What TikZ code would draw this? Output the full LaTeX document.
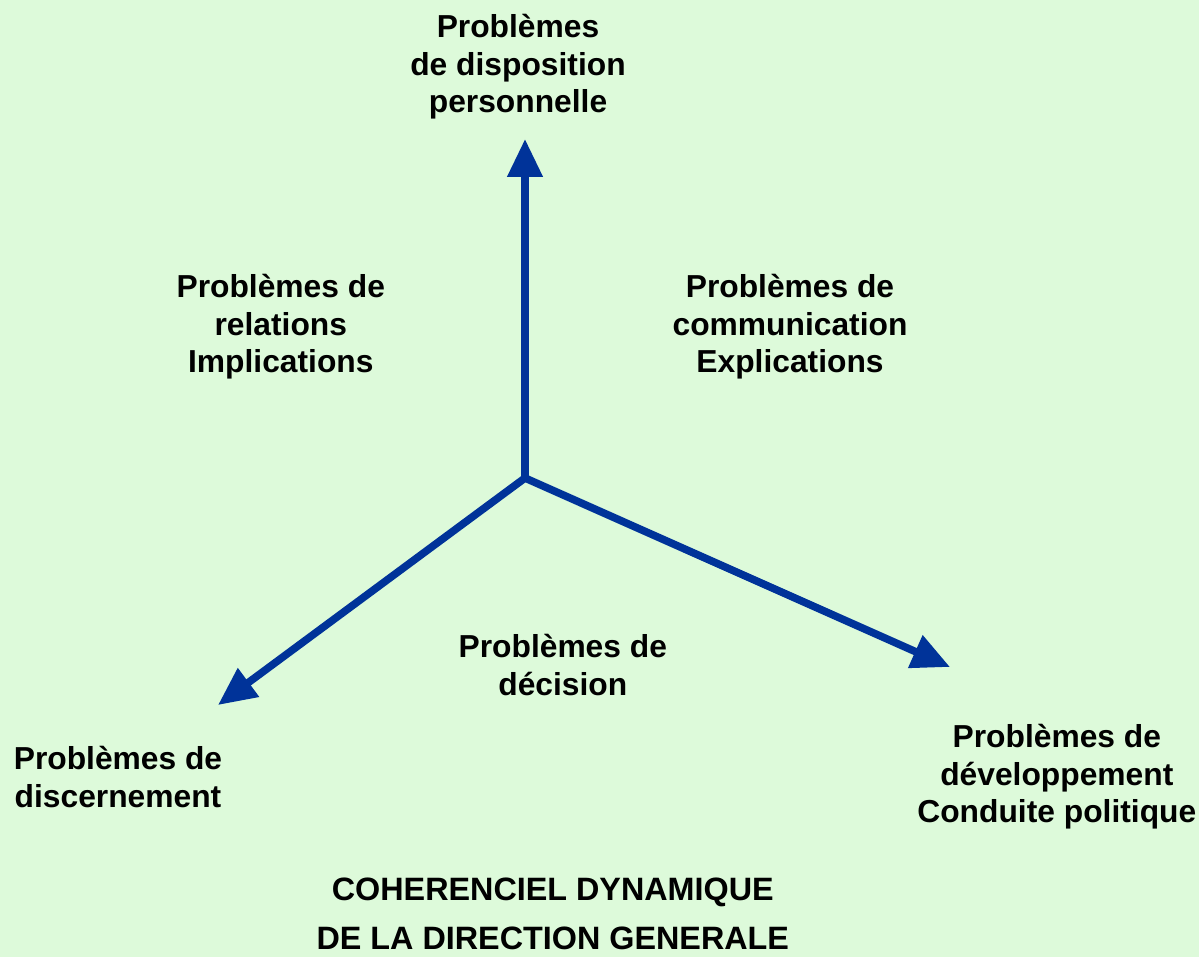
\documentclass[tikz,border=0pt]{standalone}
\usepackage{fontspec}
\setmainfont{Liberation Sans}
\usetikzlibrary{arrows.meta}

\definecolor{fond}{RGB}{221,250,218}
\definecolor{axe}{RGB}{0,51,153}

\tikzset{
  txt/.style={align=center, font=\fontsize{22.6}{26.6}\selectfont\bfseries, inner sep=0pt},
  titre/.style={align=center, font=\fontsize{23}{34.5}\selectfont\bfseries, inner sep=0pt},
  axe/.style={draw=axe, line width=0.19cm, -{Triangle[width=0.85cm,length=0.95cm]}, fill=axe}
}

\begin{document}
\begin{tikzpicture}
				% fond
				\fill[fond] (0,0) rectangle (29.975,23.925);
				\useasboundingbox (0,0) rectangle (29.975,23.925);
				
				% centre et extremites
				\coordinate (centre) at (13.125, 11.975);
				\coordinate (haut) at (13.125, 20.45);
				\coordinate (gauche) at (5.45, 6.3);
				\coordinate (droite) at (23.75, 7.25);
				
				% axes
				\draw[axe] (centre) -- (haut);
				\draw[axe] (centre) -- (gauche);
				\draw[axe] (centre) -- (droite);
				
				% textes
				\node[txt] (disposition) at (12.95, 22.25) {Problèmes\\de disposition\\personnelle};
				\node[txt] (relations) at (7.02, 15.75) {Problèmes de\\relations\\Implications};
				\node[txt] (communication) at (19.75, 15.75) {Problèmes de\\communication\\Explications};
				\node[txt] (decision) at (14.07, 7.3) {Problèmes de\\décision};
				\node[txt] (discernement) at (2.95, 4.5) {Problèmes de\\discernement};
				\node[txt] (developpement) at (26.42, 4.5) {Problèmes de\\développement\\Conduite politique};
				
				% titre
				\node[titre] (titre) at (13.82, 1.08) {COHERENCIEL DYNAMIQUE\\DE LA DIRECTION GENERALE};
\end{tikzpicture}
\end{document}
